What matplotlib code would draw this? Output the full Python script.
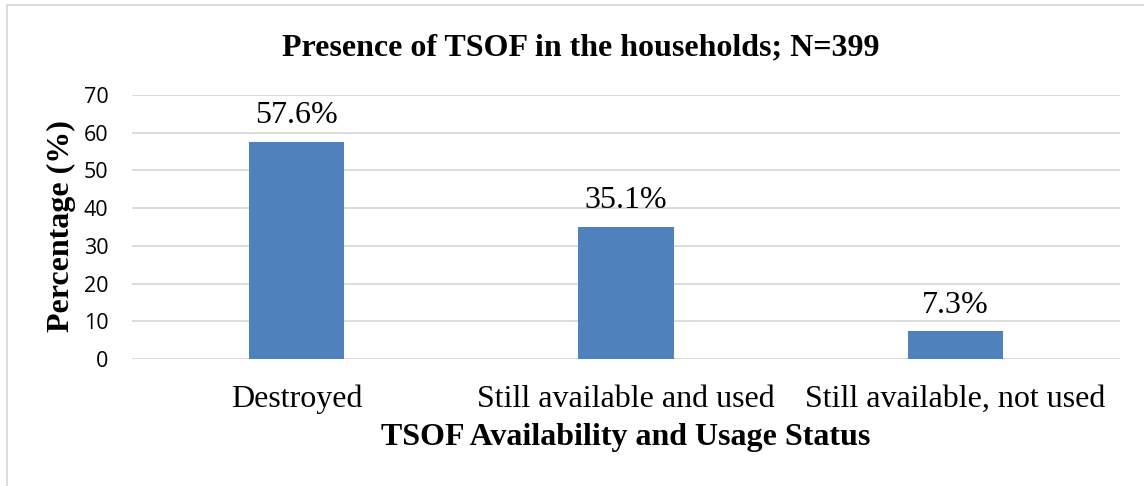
import matplotlib
matplotlib.use("Agg")
import matplotlib.pyplot as plt
from matplotlib.lines import Line2D

categories = ["Destroyed", "Still available and used", "Still available, not used"]
values = [57.6, 35.1, 7.3]
labels = ["57.6%", "35.1%", "7.3%"]
yticks = [0, 10, 20, 30, 40, 50, 60, 70]

W, H = 1144, 486
fig = plt.figure(figsize=(W / 100, H / 100), dpi=100)
ax_l, ax_r, ax_t, ax_b = 132, 1120, 95, 359
ax = fig.add_axes([ax_l / W, 1 - ax_b / H, (ax_r - ax_l) / W, (ax_b - ax_t) / H])
aw, ah = ax_r - ax_l, ax_b - ax_t

serif = "Liberation Serif"
sans = "Open Sans"

x = list(range(len(categories)))
ax.bar(x, values, width=0.29, color="#4f81bd", zorder=3)
for xi, v, lab in zip(x, values, labels):
    ax.text(xi, v + 5.0, lab, ha="center", va="baseline", fontsize=23, family=serif)

ax.set_xlim(-0.5, 2.5)
ax.set_ylim(0, 70)
ax.set_yticks(yticks)
ax.set_yticklabels([str(t) for t in yticks], family=sans, fontsize=15.5)
ax.set_xticks(x)
ax.set_xticklabels(categories, family=serif, fontsize=23)
ax.tick_params(axis="both", length=0)
ax.tick_params(axis="y", pad=17)
ax.tick_params(axis="x", pad=18.5)
ax.grid(axis="y", color="#d9d9d9", linewidth=1.3, zorder=0)
for s in ax.spines.values():
    s.set_visible(False)

ax.set_xlabel("TSOF Availability and Usage Status", family=serif, fontsize=23,
              fontweight="bold")
ax.xaxis.label.set_va("baseline")
ax.xaxis.set_label_coords((626 - ax_l) / aw, (ax_b - 445) / ah)
ax.set_ylabel("Percentage (%)", family=serif, fontsize=23, fontweight="bold")
ax.yaxis.label.set_va("center")
ax.yaxis.set_label_coords((61 - ax_l) / aw, (ax_b - 226) / ah)

fig.text(581 / W, 1 - 55 / H, "Presence of TSOF in the households; N=399", ha="center",
         va="baseline", family=serif, fontsize=23, fontweight="bold")

# outer chart border
fig.add_artist(Line2D([7 / W, 7 / W], [0, 1 - 5 / H], color="#d9d9d9", linewidth=1.3,
                      transform=fig.transFigure))
fig.add_artist(Line2D([7 / W, 1], [1 - 5 / H, 1 - 5 / H], color="#d9d9d9", linewidth=1.3,
                      transform=fig.transFigure))

fig.savefig("out.png", dpi=100)
